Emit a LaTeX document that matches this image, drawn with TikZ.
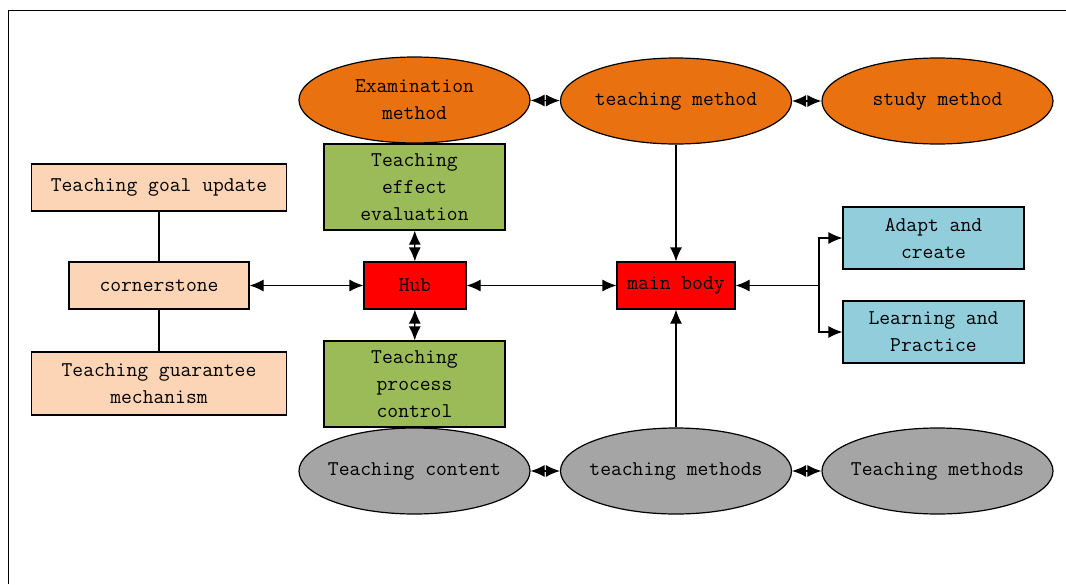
\documentclass[tikz,border=0pt]{standalone}
\usetikzlibrary{shapes.geometric,arrows.meta}
\definecolor{orng}{HTML}{E97110}
\definecolor{grn}{HTML}{9BBB59}
\definecolor{peach}{HTML}{FBD5B5}
\definecolor{lblue}{HTML}{92CDDC}
\definecolor{gry}{HTML}{A5A5A5}
\begin{document}
\begin{tikzpicture}[x=1pt,y=-1pt,line width=1.2pt,>={Latex[length=14pt,width=12pt]},
  font=\ttfamily\fontsize{21}{27}\selectfont,
  ell/.style={ellipse,draw,minimum width=231pt,minimum height=86pt,inner xsep=-30pt,inner ysep=-10pt,align=center},
  box/.style={rectangle,draw,inner sep=0pt,align=center}]
\useasboundingbox (0,0) rectangle (1066,584);
\draw[line width=1pt] (8,584)--(8,10)--(1066,10);
\node[ell,fill=orng] (exam) at (414.5,100) {Examination\\method};
\node[ell,fill=orng] (tmethod) at (676,101) {teaching method};
\node[ell,fill=orng] (study) at (937.5,101) {study method};
\node[ell,fill=gry] (content) at (414.5,471) {Teaching content};
\node[ell,fill=gry] (tmethods) at (676,471) {teaching methods};
\node[ell,fill=gry] (tmethodsb) at (937.5,471) {Teaching methods};
\node[box,fill=grn,minimum width=181pt,minimum height=86pt] (effect) at (414.5,187) {Teaching\\effect\\evaluation};
\node[box,fill=grn,minimum width=181pt,minimum height=86pt] (process) at (414.5,384) {Teaching\\process\\control};
\node[box,fill=red,minimum width=102pt,minimum height=47pt] (hub) at (415,285.5) {Hub};
\node[box,fill=red,minimum width=118pt,minimum height=47pt] (main) at (676,285.5) {main body};
\node[box,fill=peach,minimum width=180pt,minimum height=47pt] (corner) at (159,285.5) {cornerstone};
\node[box,fill=peach,minimum width=255pt,minimum height=47pt] (goal) at (159,187.5) {Teaching goal update};
\node[box,fill=peach,minimum width=255pt,minimum height=63pt] (guar) at (159,383.5) {Teaching guarantee\\mechanism};
\node[box,fill=lblue,minimum width=181pt,minimum height=62pt] (adapt) at (933.5,238) {Adapt and\\create};
\node[box,fill=lblue,minimum width=181pt,minimum height=62pt] (learn) at (933.5,332) {Learning and\\Practice};
\coordinate (br) at (819,285.5);
\draw[<->] (exam)--(tmethod);
\draw[<->] (tmethod)--(study);
\draw[<->] (content)--(tmethods);
\draw[<->] (tmethods)--(tmethodsb);
\draw[<->] (corner)--(hub);
\draw[<->] (hub)--(main);
\draw[<->] (effect)--(hub);
\draw[<->] (hub)--(process);
\draw[->] (tmethod)--(main);
\draw[->] (tmethods)--(main);
\draw (goal)--(corner)--(guar);
\draw[<-] (main)--(br);
\draw[->] (br) |- (adapt);
\draw[->] (br) |- (learn);
\end{tikzpicture}
\end{document}
